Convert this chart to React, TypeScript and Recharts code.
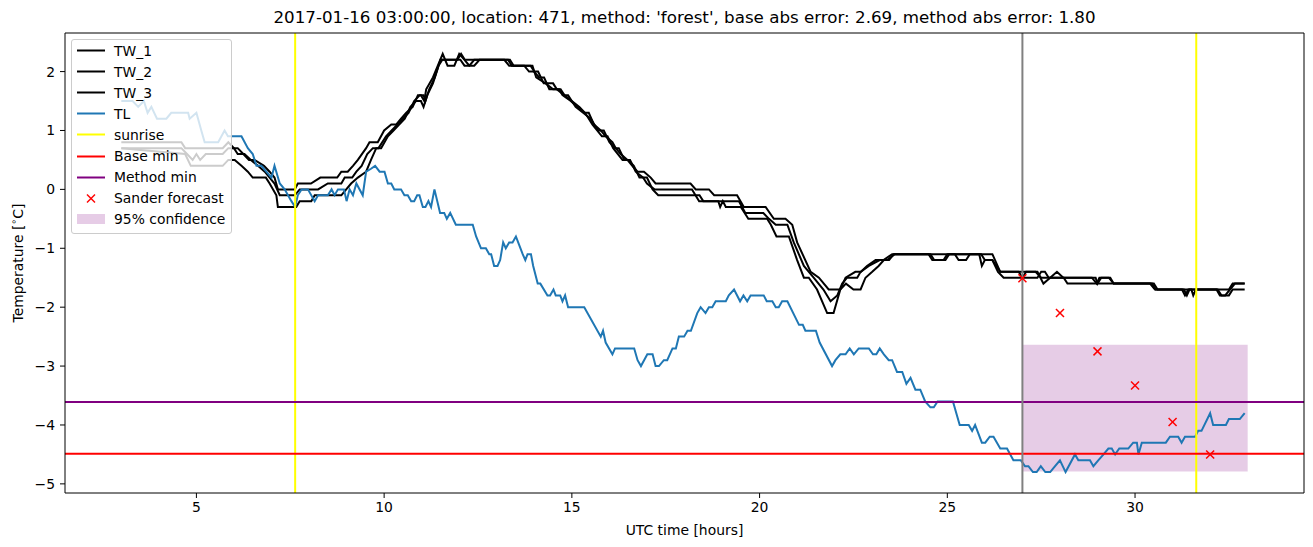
import React from "react";
import {
  ComposedChart,
  Line,
  Scatter,
  XAxis,
  YAxis,
  ReferenceLine,
  ReferenceArea,
} from "recharts";

const TITLE =
  "2017-01-16 03:00:00, location: 471, method: 'forest', base abs error: 2.69, method abs error: 1.80";

// [hour, temperature]
const TW_1: [number, number][] = [
  [3.0, 0.8], [4.6, 0.8], [4.7, 0.7], [5.7, 0.7], [5.85, 0.8], [6.0, 0.7], [6.1, 0.7], [6.25, 0.6],
  [6.4, 0.5], [6.55, 0.5], [6.8, 0.4], [6.95, 0.3], [7.08, 0.2], [7.17, 0.0], [7.62, 0.0], [7.7, 0.1],
  [8.05, 0.1], [8.3, 0.2], [8.75, 0.2], [8.86, 0.3], [9.03, 0.3], [9.17, 0.4], [9.3, 0.5], [9.52, 0.7],
  [9.61, 0.8], [9.83, 0.8], [10.0, 1.0], [10.19, 1.1], [10.32, 1.1], [10.45, 1.2], [10.59, 1.3],
  [10.76, 1.4], [10.9, 1.6], [10.98, 1.6], [11.07, 1.5], [11.12, 1.7], [11.3, 1.9], [11.43, 2.1],
  [11.56, 2.3], [11.69, 2.1], [11.87, 2.1], [12.0, 2.3], [12.14, 2.2], [12.27, 2.1], [12.4, 2.1],
  [12.54, 2.2], [13.2, 2.2], [13.33, 2.1], [13.73, 2.1], [13.86, 2.0], [13.99, 2.0], [14.13, 1.9],
  [14.26, 1.9], [14.4, 1.7], [14.66, 1.7], [14.75, 1.6], [14.97, 1.5], [15.15, 1.4], [15.33, 1.3],
  [15.45, 1.3], [15.59, 1.1], [15.77, 1.0], [15.9, 0.9], [16.08, 0.8], [16.17, 0.7], [16.3, 0.6],
  [16.48, 0.5], [16.61, 0.4], [16.75, 0.3], [16.92, 0.3], [17.1, 0.2], [17.23, 0.1], [18.16, 0.1],
  [18.3, 0.0], [18.65, 0.0], [18.79, -0.1], [19.4, -0.1], [19.58, -0.3], [20.16, -0.3], [20.38, -0.5],
  [20.69, -0.5], [20.87, -0.6], [21.0, -0.9], [21.36, -1.4], [21.58, -1.5], [21.84, -1.7], [22.15, -1.7],
  [22.29, -1.5], [22.55, -1.4], [22.7, -1.4], [22.86, -1.3], [23.09, -1.2], [23.3, -1.2], [23.53, -1.1],
  [24.55, -1.1], [24.65, -1.2], [24.9, -1.2], [25.0, -1.1], [25.9, -1.1], [26.0, -1.2], [26.2, -1.2],
  [26.41, -1.4], [27.4, -1.4], [27.56, -1.6], [27.74, -1.5], [27.92, -1.4], [28.09, -1.5], [28.95, -1.5],
  [29.0, -1.6], [29.1, -1.5], [29.34, -1.5], [29.43, -1.6], [30.4, -1.6], [30.53, -1.7], [31.3, -1.7],
  [31.38, -1.8], [31.45, -1.7], [32.17, -1.7], [32.26, -1.8], [32.4, -1.8], [32.66, -1.6], [32.92, -1.6],
];

const TW_2: [number, number][] = [
  [3.0, 0.7], [4.6, 0.7], [4.75, 0.6], [4.9, 0.5], [5.0, 0.6], [5.1, 0.5], [5.25, 0.6], [5.7, 0.6],
  [5.85, 0.7], [6.0, 0.7], [6.1, 0.6], [6.28, 0.6], [6.45, 0.5], [6.64, 0.4], [6.82, 0.3], [6.95, 0.2],
  [7.08, 0.1], [7.22, -0.1], [7.62, -0.1], [7.75, 0.0], [8.24, 0.0], [8.5, 0.1], [8.86, 0.1], [8.95, 0.2],
  [9.15, 0.2], [9.26, 0.3], [9.4, 0.4], [9.55, 0.6], [9.7, 0.7], [9.85, 0.7], [10.05, 0.9], [10.2, 1.0],
  [10.35, 1.1], [10.5, 1.2], [10.65, 1.3], [10.8, 1.5], [10.95, 1.6], [11.05, 1.6], [11.1, 1.5],
  [11.2, 1.7], [11.35, 1.9], [11.5, 2.2], [11.95, 2.2], [12.05, 2.3], [12.15, 2.2], [13.3, 2.2],
  [13.4, 2.1], [13.9, 2.1], [14.0, 2.0], [14.1, 2.0], [14.25, 1.8], [14.5, 1.8], [14.6, 1.7], [14.8, 1.6],
  [14.9, 1.6], [15.1, 1.4], [15.3, 1.3], [15.5, 1.2], [15.7, 1.0], [15.85, 1.0], [16.0, 0.8], [16.15, 0.7],
  [16.25, 0.7], [16.4, 0.5], [16.55, 0.5], [16.7, 0.3], [16.9, 0.2], [17.0, 0.1], [17.2, 0.0], [18.2, 0.0],
  [18.39, -0.2], [19.45, -0.2], [19.62, -0.4], [20.1, -0.4], [20.25, -0.5], [20.43, -0.6], [20.74, -0.6],
  [20.91, -0.9], [21.18, -1.3], [21.44, -1.5], [21.7, -1.7], [21.89, -1.9], [22.07, -1.8], [22.2, -1.6],
  [22.33, -1.5], [22.6, -1.5], [22.69, -1.4], [22.91, -1.3], [23.2, -1.2], [23.4, -1.2], [23.6, -1.1],
  [25.2, -1.1], [25.3, -1.2], [25.5, -1.2], [25.6, -1.1], [26.2, -1.1], [26.41, -1.4], [26.9, -1.4],
  [27.0, -1.5], [27.4, -1.5], [27.5, -1.4], [27.6, -1.4], [27.7, -1.5], [28.1, -1.5], [28.2, -1.6],
  [30.45, -1.6], [30.55, -1.7], [31.25, -1.7], [31.33, -1.8], [31.42, -1.7], [32.5, -1.7], [32.6, -1.6],
  [32.92, -1.6],
];

const TW_3: [number, number][] = [
  [3.0, 0.7], [4.7, 0.6], [4.85, 0.4], [5.7, 0.4], [5.85, 0.5], [6.02, 0.5], [6.2, 0.4], [6.37, 0.3],
  [6.5, 0.2], [6.85, 0.2], [6.95, 0.1], [7.13, -0.1], [7.17, -0.3], [7.66, -0.3], [7.75, -0.2],
  [8.06, -0.2], [8.15, -0.1], [8.86, -0.1], [8.99, 0.0], [9.12, 0.1], [9.3, 0.2], [9.52, 0.3], [9.65, 0.5],
  [9.79, 0.7], [9.92, 0.7], [10.1, 0.9], [10.25, 1.0], [10.4, 1.1], [10.55, 1.2], [10.7, 1.4], [10.85, 1.5],
  [10.98, 1.5], [11.05, 1.4], [11.15, 1.6], [11.3, 1.8], [11.45, 2.1], [11.55, 2.2], [12.03, 2.2],
  [12.14, 2.1], [12.27, 2.1], [12.4, 2.2], [13.35, 2.2], [13.45, 2.1], [13.95, 2.1], [14.05, 1.9],
  [14.3, 1.8], [14.5, 1.7], [14.7, 1.7], [14.8, 1.6], [15.0, 1.5], [15.2, 1.4], [15.35, 1.3], [15.55, 1.1],
  [15.8, 0.9], [15.95, 0.9], [16.1, 0.7], [16.35, 0.5], [16.5, 0.5], [16.65, 0.4], [16.8, 0.2], [17.0, 0.2],
  [17.15, 0.0], [17.3, -0.1], [18.4, -0.1], [18.5, -0.2], [18.9, -0.2], [18.95, -0.3], [19.02, -0.2],
  [19.1, -0.3], [19.5, -0.3], [19.7, -0.5], [20.2, -0.5], [20.3, -0.6], [20.45, -0.8], [20.78, -0.8],
  [21.0, -1.2], [21.18, -1.5], [21.31, -1.5], [21.53, -1.7], [21.8, -2.1], [21.97, -2.1], [22.15, -1.7],
  [22.3, -1.6], [22.5, -1.7], [22.69, -1.7], [22.82, -1.5], [23.0, -1.4], [23.17, -1.3], [23.31, -1.2],
  [23.45, -1.2], [23.57, -1.1], [24.5, -1.1], [24.6, -1.2], [24.95, -1.2], [25.05, -1.1], [25.85, -1.1],
  [25.92, -1.3], [26.0, -1.2], [26.2, -1.2], [26.35, -1.4], [26.5, -1.5], [27.0, -1.5], [27.1, -1.4],
  [27.35, -1.4], [27.5, -1.5], [28.85, -1.5], [28.98, -1.6], [29.05, -1.5], [29.3, -1.5], [29.43, -1.6],
  [30.5, -1.6], [30.6, -1.7], [31.5, -1.7], [31.55, -1.8], [31.62, -1.7], [32.2, -1.7], [32.3, -1.8],
  [32.5, -1.8], [32.6, -1.7], [32.92, -1.7],
];

const TL: [number, number][] = [
  [3.0, 1.5], [3.3, 1.5], [3.45, 1.4], [3.6, 1.5], [3.7, 1.3], [3.8, 1.4], [3.95, 1.2], [4.2, 1.2],
  [4.33, 1.3], [4.78, 1.3], [4.82, 1.2], [5.0, 1.3], [5.13, 1.0], [5.22, 0.8], [5.58, 0.8], [5.75, 1.0],
  [5.84, 0.9], [6.2, 0.9], [6.37, 0.7], [6.5, 0.6], [6.6, 0.4], [6.73, 0.4], [7.0, 0.2], [7.08, 0.4],
  [7.22, 0.1], [7.35, 0.0], [7.53, -0.2], [7.63, -0.3], [7.7, -0.1], [7.8, 0.0], [7.97, 0.0], [8.15, -0.2],
  [8.24, -0.1], [8.5, -0.1], [8.6, 0.0], [8.68, -0.1], [8.77, 0.0], [8.93, 0.0], [9.0, -0.2], [9.08, 0.0],
  [9.17, -0.1], [9.26, 0.1], [9.43, -0.1], [9.52, 0.3], [9.65, 0.35], [9.76, 0.4], [9.88, 0.3],
  [10.01, 0.3], [10.1, 0.1], [10.19, 0.1], [10.27, 0.0], [10.45, 0.0], [10.54, -0.1], [10.63, -0.1],
  [10.72, -0.2], [10.8, -0.2], [10.88, -0.1], [10.94, -0.1], [11.03, -0.3], [11.1, -0.3], [11.18, -0.2],
  [11.25, -0.3], [11.34, 0.0], [11.49, -0.4], [11.6, -0.4], [11.67, -0.5], [11.76, -0.4], [11.91, -0.6],
  [12.36, -0.6], [12.45, -0.8], [12.58, -1.0], [12.71, -1.0], [12.8, -1.1], [12.85, -1.1], [12.93, -1.3],
  [13.02, -1.3], [13.09, -1.2], [13.17, -0.9], [13.24, -1.0], [13.33, -0.9], [13.42, -0.9], [13.51, -0.8],
  [13.57, -0.9], [13.69, -1.1], [13.76, -1.2], [13.82, -1.1], [13.91, -1.1], [13.97, -1.3], [14.09, -1.6],
  [14.16, -1.6], [14.35, -1.8], [14.42, -1.8], [14.51, -1.7], [14.57, -1.8], [14.69, -1.8], [14.75, -1.9],
  [14.82, -1.8], [14.9, -2.0], [15.33, -2.0], [15.77, -2.5], [15.83, -2.4], [15.9, -2.6], [16.08, -2.8],
  [16.15, -2.7], [16.66, -2.7], [16.75, -2.9], [16.84, -3.0], [17.01, -2.8], [17.15, -2.8], [17.23, -3.0],
  [17.32, -3.0], [17.45, -2.9], [17.54, -2.9], [17.68, -2.7], [17.77, -2.7], [17.85, -2.5], [17.99, -2.5],
  [18.08, -2.4], [18.17, -2.4], [18.34, -2.1], [18.43, -2.0], [18.56, -2.1], [18.65, -2.0], [18.74, -2.0],
  [18.83, -1.9], [19.1, -1.9], [19.18, -1.8], [19.32, -1.7], [19.48, -1.9], [19.57, -1.8], [19.67, -1.9],
  [19.76, -1.8], [20.11, -1.8], [20.19, -1.9], [20.34, -1.9], [20.43, -2.0], [20.51, -2.0], [20.6, -1.9],
  [20.74, -1.9], [21.05, -2.3], [21.15, -2.3], [21.22, -2.4], [21.5, -2.4], [21.6, -2.6], [21.93, -3.0],
  [22.02, -2.9], [22.15, -2.8], [22.29, -2.8], [22.4, -2.7], [22.51, -2.8], [22.64, -2.7], [22.91, -2.7],
  [23.02, -2.8], [23.11, -2.8], [23.2, -2.7], [23.31, -2.8], [23.44, -2.9], [23.53, -2.9], [23.66, -3.1],
  [23.8, -3.1], [23.91, -3.3], [24.02, -3.2], [24.15, -3.4], [24.28, -3.4], [24.41, -3.6], [24.55, -3.7],
  [24.64, -3.7], [24.74, -3.6], [25.15, -3.6], [25.33, -4.0], [25.57, -4.0], [25.66, -4.1], [25.74, -4.0],
  [25.92, -4.3], [26.01, -4.3], [26.13, -4.2], [26.23, -4.2], [26.41, -4.4], [26.59, -4.4], [26.76, -4.6],
  [26.96, -4.6], [27.07, -4.7], [27.16, -4.7], [27.28, -4.8], [27.38, -4.8], [27.49, -4.7], [27.61, -4.8],
  [27.74, -4.8], [27.87, -4.7], [28.0, -4.6], [28.15, -4.8], [28.4, -4.5], [28.49, -4.6], [28.8, -4.6],
  [28.89, -4.7], [29.02, -4.6], [29.16, -4.5], [29.29, -4.4], [29.38, -4.4], [29.47, -4.5], [29.58, -4.4],
  [29.82, -4.4], [29.95, -4.3], [30.05, -4.3], [30.09, -4.5], [30.18, -4.3], [30.82, -4.3], [30.93, -4.2],
  [31.15, -4.2], [31.24, -4.3], [31.33, -4.2], [31.6, -4.2], [31.68, -4.1], [31.77, -4.1], [32.0, -3.8],
  [32.08, -4.0], [32.42, -4.0], [32.5, -3.9], [32.79, -3.9], [32.92, -3.8],
];

const SANDER_HOURS = [27, 28, 29, 30, 31, 32];
const SANDER_TEMPS = [-1.51, -2.1, -2.75, -3.33, -3.95, -4.5];

const SUNRISE_HOURS = [7.63, 31.63];
const NOW_HOUR = 27;
const BASE_MIN = -4.49;
const METHOD_MIN = -3.61;
const CONF_HOURS = [27, 33];
const CONF_TEMPS = [-4.79, -2.64];

const X_TICKS = [5, 10, 15, 20, 25, 30];
const Y_TICKS = [-5, -4, -3, -2, -1, 0, 1, 2];
const X_DOMAIN = [1.5, 34.5];
const Y_DOMAIN = [-5.155, 2.655];

const FONT = "'DejaVu Sans', sans-serif";

const LEGEND_ITEMS = [
  { label: "TW_1", kind: "line", color: "#000000" },
  { label: "TW_2", kind: "line", color: "#000000" },
  { label: "TW_3", kind: "line", color: "#000000" },
  { label: "TL", kind: "line", color: "#1f77b4" },
  { label: "sunrise", kind: "line", color: "#ffff00" },
  { label: "Base min", kind: "line", color: "#ff0000" },
  { label: "Method min", kind: "line", color: "#800080" },
  { label: "Sander forecast", kind: "x", color: "#ff0000" },
  { label: "95% confidence", kind: "patch", color: "rgba(128,0,128,0.2)" },
];

const toPoints = (rows: [number, number][]) => rows.map(([x, y]) => ({ x, y }));
const sanderData = SANDER_HOURS.map((x, i) => ({ x, y: SANDER_TEMPS[i] }));

const minus = (v: number) => String(v).replace("-", "\u2212");

const XMark = (props: any) => {
  const { cx, cy } = props;
  const r = 4;
  return (
    <g stroke="#ff0000" strokeWidth={1.5}>
      <line x1={cx - r} y1={cy - r} x2={cx + r} y2={cy + r} />
      <line x1={cx - r} y1={cy + r} x2={cx + r} y2={cy - r} />
    </g>
  );
};

const YLabel = (props: any) => {
  const vb = props.viewBox;
  const cx = 18;
  const cy = vb.y + vb.height / 2;
  return (
    <text
      x={cx}
      y={cy}
      transform={`rotate(-90 ${cx} ${cy})`}
      textAnchor="middle"
      dominantBaseline="central"
      fontSize={13.9}
      fontFamily={FONT}
      fill="#000"
    >
      Temperature [<tspan fontSize={9.5} dy={-5}>{"\u2218"}</tspan>
      <tspan dy={5}>C]</tspan>
    </text>
  );
};

const XLabel = (props: any) => {
  const vb = props.viewBox;
  return (
    <text
      x={vb.x + vb.width / 2}
      y={530}
      textAnchor="middle"
      dominantBaseline="central"
      fontSize={13.9}
      fontFamily={FONT}
      fill="#000"
    >
      UTC time [hours]
    </text>
  );
};

function ChartLegend() {
  return (
    <div
      style={{
        position: "absolute",
        left: 71,
        top: 39,
        width: 161,
        padding: "0 0 3px 0",
        background: "rgba(255,255,255,0.8)",
        border: "1px solid #cccccc",
        borderRadius: 3,
        fontFamily: FONT,
        fontSize: 13.9,
        boxSizing: "border-box",
      }}
    >
      {LEGEND_ITEMS.map((item) => (
        <div key={item.label} style={{ display: "flex", alignItems: "center", height: 21.1 }}>
          <svg width={38} height={21} style={{ marginLeft: 4, flex: "none" }}>
            {item.kind === "line" && (
              <line x1={1} y1={10.5} x2={29} y2={10.5} stroke={item.color} strokeWidth={2} />
            )}
            {item.kind === "x" && <XMark cx={15} cy={10.5} />}
            {item.kind === "patch" && <rect x={1} y={5} width={28} height={10} fill={item.color} />}
          </svg>
          <span style={{ whiteSpace: "nowrap" }}>{item.label}</span>
        </div>
      ))}
    </div>
  );
}

export default function App() {
  const tick = { fill: "#000", fontSize: 13.9, fontFamily: FONT };
  return (
    <div style={{ position: "absolute", left: 0, top: 0, width: 1313, height: 547, background: "#fff", fontFamily: FONT }}>
      <div
        style={{
          position: "absolute",
          left: 65,
          width: 1239,
          top: 7,
          textAlign: "center",
          fontSize: 16.7,
          lineHeight: "20px",
          whiteSpace: "nowrap",
        }}
      >
        {TITLE}
      </div>
      <ComposedChart width={1313} height={547} margin={{ top: 33, right: 9, bottom: 0, left: 0 }}>
        <XAxis
          dataKey="x"
          type="number"
          domain={X_DOMAIN}
          ticks={X_TICKS}
          allowDataOverflow
          height={54}
          tick={tick}
          tickSize={5}
          tickMargin={4}
          tickLine={{ stroke: "#000" }}
          axisLine={{ stroke: "#000" }}
          label={<XLabel />}
        />
        <YAxis
          dataKey="y"
          type="number"
          domain={Y_DOMAIN}
          ticks={Y_TICKS}
          allowDataOverflow
          width={65}
          tick={tick}
          tickSize={5}
          tickMargin={5}
          tickFormatter={minus}
          tickLine={{ stroke: "#000" }}
          axisLine={{ stroke: "#000" }}
          label={<YLabel />}
        />
        <ReferenceArea
          x1={CONF_HOURS[0]}
          x2={CONF_HOURS[1]}
          y1={CONF_TEMPS[0]}
          y2={CONF_TEMPS[1]}
          fill="#800080"
          fillOpacity={0.2}
          stroke="none"
        />
        <Line data={toPoints(TW_1)} dataKey="y" type="linear" stroke="#000" strokeWidth={2} dot={false} activeDot={false} isAnimationActive={false} />
        <Line data={toPoints(TW_2)} dataKey="y" type="linear" stroke="#000" strokeWidth={2} dot={false} activeDot={false} isAnimationActive={false} />
        <Line data={toPoints(TW_3)} dataKey="y" type="linear" stroke="#000" strokeWidth={2} dot={false} activeDot={false} isAnimationActive={false} />
        <Line data={toPoints(TL)} dataKey="y" type="linear" stroke="#1f77b4" strokeWidth={2} dot={false} activeDot={false} isAnimationActive={false} />
        {SUNRISE_HOURS.map((h) => (
          <ReferenceLine key={h} x={h} stroke="#ffff00" strokeWidth={2} />
        ))}
        <ReferenceLine y={BASE_MIN} stroke="#ff0000" strokeWidth={2} />
        <ReferenceLine y={METHOD_MIN} stroke="#800080" strokeWidth={2} />
        <ReferenceLine x={NOW_HOUR} stroke="#808080" strokeWidth={2} />
        <Scatter data={sanderData} shape={<XMark />} isAnimationActive={false} />
        {/* top and right spines of the frame */}
        <ReferenceLine y={Y_DOMAIN[1]} stroke="#000" strokeWidth={1} />
        <ReferenceLine x={X_DOMAIN[1]} stroke="#000" strokeWidth={1} />
      </ComposedChart>
      <ChartLegend />
    </div>
  );
}
